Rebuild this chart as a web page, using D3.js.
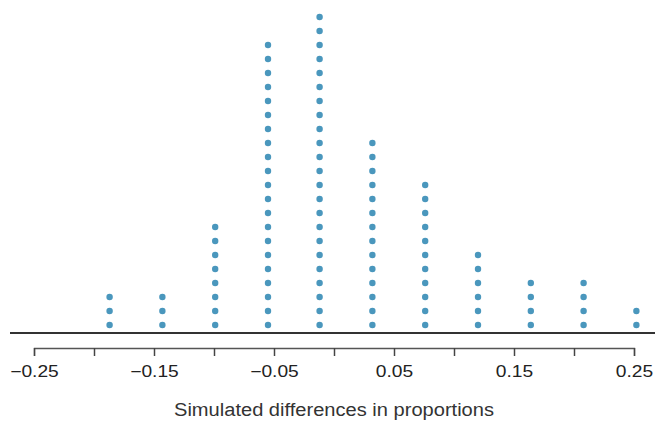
<!DOCTYPE html>
<html>
<head>
<meta charset="utf-8">
<script src="https://cdn.jsdelivr.net/npm/d3@7"></script>
<style>
  body { margin: 0; background: #fff; }
  text { font-family: "Liberation Sans", Arial, sans-serif; }
</style>
</head>
<body>
<div id="body"></div>
<script>
// dot plot columns: value of the simulated difference and how many dots stack on it
var diffs = [-0.187, -0.143, -0.099, -0.055, -0.012, 0.032, 0.076, 0.12, 0.164, 0.208, 0.252];
var counts = [3, 3, 8, 21, 23, 14, 11, 6, 4, 4, 2];
var tickValues = [-0.25, -0.2, -0.15, -0.1, -0.05, 0, 0.05, 0.1, 0.15, 0.2, 0.25];
var labelValues = [-0.25, -0.15, -0.05, 0.05, 0.15, 0.25];

var width = 655;
var height = 422;

var svg = d3.select("#body")
  .append("svg")
  .attr("width", width)
  .attr("height", height);

var x = d3.scaleLinear()
  .domain([-0.25, 0.25])
  .range([34, 634]);

// stack position -> pixel
var y = d3.scaleLinear()
  .domain([0, 23])
  .range([325, 3]);

var dots = [];
diffs.forEach(function(d, i) {
  for (var k = 0; k < counts[i]; k++) dots.push({ v: d, k: k });
});

svg.append("g")
  .selectAll("circle")
  .data(dots)
  .enter()
  .append("circle")
  .attr("cx", function(d) { return x(d.v); })
  .attr("cy", function(d) { return y(d.k); })
  .attr("r", 3.2)
  .attr("fill", "#4a97bd");

// baseline under the dots
svg.append("line")
  .attr("x1", 10)
  .attr("x2", width)
  .attr("y1", 333)
  .attr("y2", 333)
  .attr("stroke", "#333")
  .attr("stroke-width", 2);

var fmt = d3.format(".2f");
var axis = svg.append("g")
  .attr("transform", "translate(0,348)")
  .call(d3.axisBottom(x)
    .tickValues(tickValues)
    .tickSize(8)
    .tickSizeOuter(8)
    .tickFormat(function(d) {
      return labelValues.some(function(l) { return Math.abs(l - d) < 1e-9; }) ? fmt(d) : "";
    }));

axis.select(".domain").attr("stroke", "#555").attr("stroke-width", 1.3);
axis.selectAll(".tick line").attr("stroke", "#444").attr("stroke-width", 1.5);
axis.selectAll(".tick text")
  .attr("y", 18)
  .attr("font-size", 16)
  .attr("transform", "scale(1.2,1)")
  .attr("fill", "#222");

svg.append("text")
  .attr("x", x(0))
  .attr("y", 416)
  .attr("text-anchor", "middle")
  .attr("font-size", 18)
  .attr("textLength", 320)
  .attr("lengthAdjust", "spacingAndGlyphs")
  .attr("fill", "#333")
  .text("Simulated differences in proportions");
</script>
</body>
</html>
